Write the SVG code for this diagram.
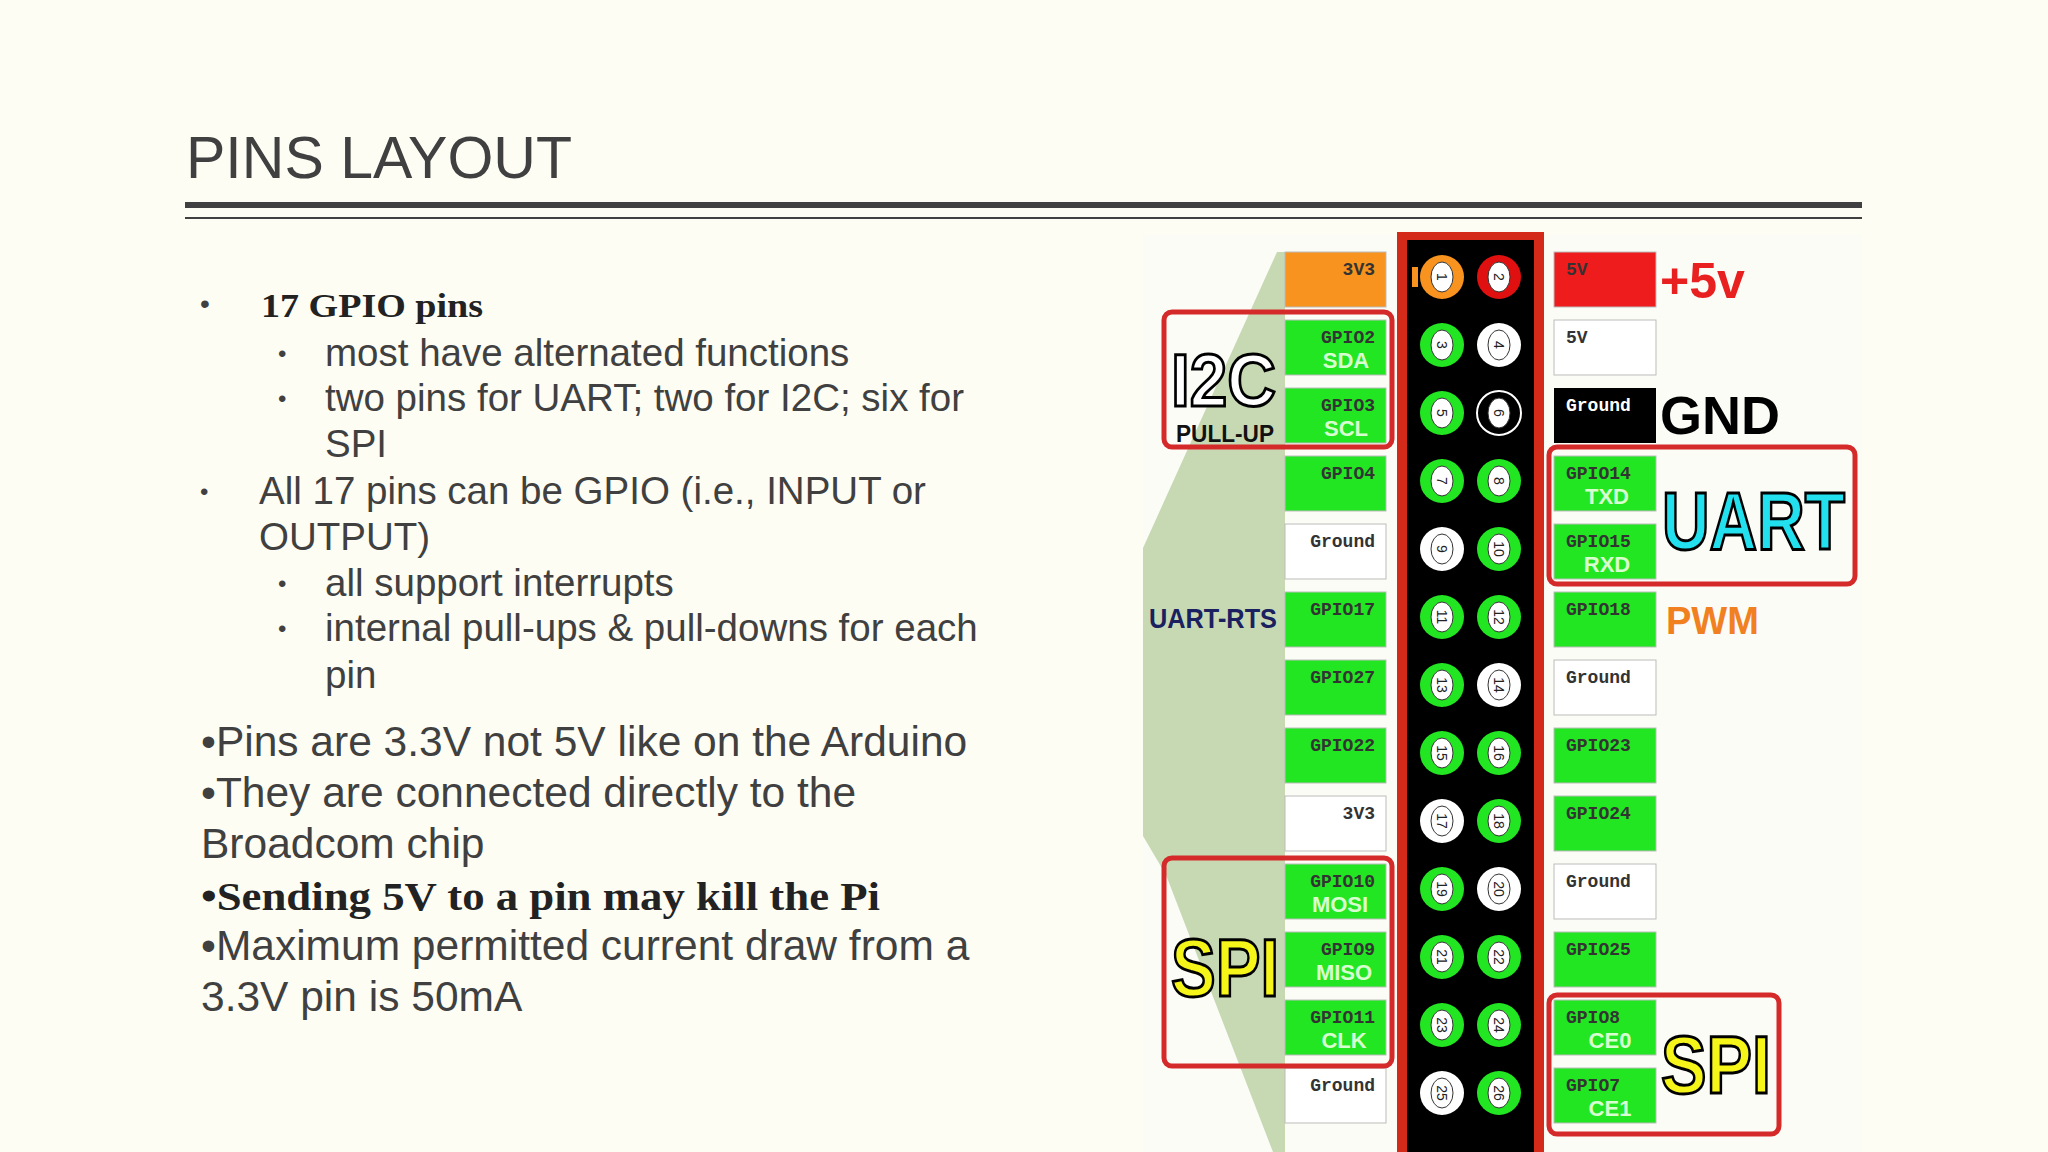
<svg xmlns="http://www.w3.org/2000/svg" width="2048" height="1152" viewBox="0 0 2048 1152">
<style>
.t{font-family:"Liberation Sans",Arial,sans-serif;fill:#404040}
.b{font-family:"Liberation Serif",serif;font-weight:bold;fill:#222}
.m{font-family:"Liberation Mono",monospace;font-weight:bold;font-size:18px;fill:#333}
.s{font-family:"Liberation Sans",Arial,sans-serif;font-weight:bold;font-size:22px;fill:#d8ffd0;text-anchor:middle}
.g{fill:#22e622;stroke:#bbb;stroke-width:1}
.w{fill:#fff;stroke:#bbb;stroke-width:1}
.rb{fill:none;stroke:#d42a2a;stroke-width:5}
.n{font-family:"Liberation Sans",Arial,sans-serif;font-size:14px;fill:#222;text-anchor:middle}
.big{font-family:"Liberation Sans",Arial,sans-serif;font-weight:bold}
</style>
<rect width="2048" height="1152" fill="#fdfdf4"/>
<g id="title">
<text x="186" y="178" class="t" font-size="60" textLength="386" lengthAdjust="spacingAndGlyphs">PINS LAYOUT</text>
<rect x="185" y="202" width="1677" height="6" fill="#404040"/>
<rect x="185" y="217" width="1677" height="2" fill="#404040"/>
</g>
<g id="text" class="t">
<text x="200" y="313" font-size="28">•</text>
<text x="261" y="317" class="b" font-size="33" textLength="222" lengthAdjust="spacingAndGlyphs">17 GPIO pins</text>
<g font-size="38.5">
<text x="278" y="362" font-size="24">•</text><text x="325" y="366">most have alternated functions</text>
<text x="278" y="407" font-size="24">•</text><text x="325" y="411">two pins for UART; two for I2C; six for</text>
<text x="325" y="457">SPI</text>
<text x="200" y="500" font-size="24">•</text><text x="259" y="504">All 17 pins can be GPIO (i.e., INPUT or</text>
<text x="259" y="550">OUTPUT)</text>
<text x="278" y="592" font-size="24">•</text><text x="325" y="596">all support interrupts</text>
<text x="278" y="637" font-size="24">•</text><text x="325" y="641">internal pull-ups &amp; pull-downs for each</text>
<text x="325" y="688">pin</text>
</g>
<g font-size="42.5">
<text x="201" y="756">•Pins are 3.3V not 5V like on the Arduino</text>
<text x="201" y="807">•They are connected directly to the</text>
<text x="201" y="858">Broadcom chip</text>
<text x="201" y="910" class="b" font-size="40" textLength="679" lengthAdjust="spacingAndGlyphs">•Sending 5V to a pin may kill the Pi</text>
<text x="201" y="960">•Maximum permitted current draw from a</text>
<text x="201" y="1011">3.3V pin is 50mA</text>
</g>
</g>
<g id="panel">
<rect x="1143" y="235" width="719" height="917" fill="#fcfcf7"/>
<polygon points="1277,252 1285,252 1285,1152 1273,1152 1166,875 1143,836 1143,548" fill="#c6d9b3"/>
</g>
<g id="header">
<rect x="1397" y="232" width="147" height="925" fill="#d42a1a"/>
<rect x="1407" y="240" width="127" height="912" fill="#000"/>
<rect x="1412" y="267" width="6" height="20" fill="#f7931e"/>
</g>
<g id="pins">
<g transform="translate(1442,277)"><circle r="22" fill="#f7931e"/><ellipse rx="11" ry="15" fill="#fff" stroke="#333"/><text class="n" transform="rotate(90)" y="5">1</text></g>
<g transform="translate(1499,277)"><circle r="22" fill="#e01010"/><ellipse rx="11" ry="15" fill="#fff" stroke="#333"/><text class="n" transform="rotate(90)" y="5">2</text></g>
<g transform="translate(1442,345)"><circle r="22" fill="#22e622"/><ellipse rx="11" ry="15" fill="#fff" stroke="#333"/><text class="n" transform="rotate(90)" y="5">3</text></g>
<g transform="translate(1499,345)"><circle r="22" fill="#fff"/><ellipse rx="11" ry="15" fill="#fff" stroke="#333"/><text class="n" transform="rotate(90)" y="5">4</text></g>
<g transform="translate(1442,413)"><circle r="22" fill="#22e622"/><ellipse rx="11" ry="15" fill="#fff" stroke="#333"/><text class="n" transform="rotate(90)" y="5">5</text></g>
<g transform="translate(1499,413)"><circle r="22" fill="#000" stroke="#fff" stroke-width="2"/><ellipse rx="11" ry="15" fill="#fff" stroke="#333"/><text class="n" transform="rotate(90)" y="5">6</text></g>
<g transform="translate(1442,481)"><circle r="22" fill="#22e622"/><ellipse rx="11" ry="15" fill="#fff" stroke="#333"/><text class="n" transform="rotate(90)" y="5">7</text></g>
<g transform="translate(1499,481)"><circle r="22" fill="#22e622"/><ellipse rx="11" ry="15" fill="#fff" stroke="#333"/><text class="n" transform="rotate(90)" y="5">8</text></g>
<g transform="translate(1442,549)"><circle r="22" fill="#fff"/><ellipse rx="11" ry="15" fill="#fff" stroke="#333"/><text class="n" transform="rotate(90)" y="5">9</text></g>
<g transform="translate(1499,549)"><circle r="22" fill="#22e622"/><ellipse rx="11" ry="15" fill="#fff" stroke="#333"/><text class="n" transform="rotate(90)" y="5">10</text></g>
<g transform="translate(1442,617)"><circle r="22" fill="#22e622"/><ellipse rx="11" ry="15" fill="#fff" stroke="#333"/><text class="n" transform="rotate(90)" y="5">11</text></g>
<g transform="translate(1499,617)"><circle r="22" fill="#22e622"/><ellipse rx="11" ry="15" fill="#fff" stroke="#333"/><text class="n" transform="rotate(90)" y="5">12</text></g>
<g transform="translate(1442,685)"><circle r="22" fill="#22e622"/><ellipse rx="11" ry="15" fill="#fff" stroke="#333"/><text class="n" transform="rotate(90)" y="5">13</text></g>
<g transform="translate(1499,685)"><circle r="22" fill="#fff"/><ellipse rx="11" ry="15" fill="#fff" stroke="#333"/><text class="n" transform="rotate(90)" y="5">14</text></g>
<g transform="translate(1442,753)"><circle r="22" fill="#22e622"/><ellipse rx="11" ry="15" fill="#fff" stroke="#333"/><text class="n" transform="rotate(90)" y="5">15</text></g>
<g transform="translate(1499,753)"><circle r="22" fill="#22e622"/><ellipse rx="11" ry="15" fill="#fff" stroke="#333"/><text class="n" transform="rotate(90)" y="5">16</text></g>
<g transform="translate(1442,821)"><circle r="22" fill="#fff"/><ellipse rx="11" ry="15" fill="#fff" stroke="#333"/><text class="n" transform="rotate(90)" y="5">17</text></g>
<g transform="translate(1499,821)"><circle r="22" fill="#22e622"/><ellipse rx="11" ry="15" fill="#fff" stroke="#333"/><text class="n" transform="rotate(90)" y="5">18</text></g>
<g transform="translate(1442,889)"><circle r="22" fill="#22e622"/><ellipse rx="11" ry="15" fill="#fff" stroke="#333"/><text class="n" transform="rotate(90)" y="5">19</text></g>
<g transform="translate(1499,889)"><circle r="22" fill="#fff"/><ellipse rx="11" ry="15" fill="#fff" stroke="#333"/><text class="n" transform="rotate(90)" y="5">20</text></g>
<g transform="translate(1442,957)"><circle r="22" fill="#22e622"/><ellipse rx="11" ry="15" fill="#fff" stroke="#333"/><text class="n" transform="rotate(90)" y="5">21</text></g>
<g transform="translate(1499,957)"><circle r="22" fill="#22e622"/><ellipse rx="11" ry="15" fill="#fff" stroke="#333"/><text class="n" transform="rotate(90)" y="5">22</text></g>
<g transform="translate(1442,1025)"><circle r="22" fill="#22e622"/><ellipse rx="11" ry="15" fill="#fff" stroke="#333"/><text class="n" transform="rotate(90)" y="5">23</text></g>
<g transform="translate(1499,1025)"><circle r="22" fill="#22e622"/><ellipse rx="11" ry="15" fill="#fff" stroke="#333"/><text class="n" transform="rotate(90)" y="5">24</text></g>
<g transform="translate(1442,1093)"><circle r="22" fill="#fff"/><ellipse rx="11" ry="15" fill="#fff" stroke="#333"/><text class="n" transform="rotate(90)" y="5">25</text></g>
<g transform="translate(1499,1093)"><circle r="22" fill="#22e622"/><ellipse rx="11" ry="15" fill="#fff" stroke="#333"/><text class="n" transform="rotate(90)" y="5">26</text></g>
</g>
<g id="left-boxes">
<rect x="1285" y="252" width="101" height="55" fill="#f7931e" stroke="#bbb"/><text class="m" x="1375" y="275" text-anchor="end">3V3</text>
<rect x="1285" y="320" width="101" height="55" class="g"/><text class="m" x="1375" y="343" text-anchor="end">GPIO2</text><text class="s" x="1346" y="368">SDA</text>
<rect x="1285" y="388" width="101" height="55" class="g"/><text class="m" x="1375" y="411" text-anchor="end">GPIO3</text><text class="s" x="1346" y="436">SCL</text>
<rect x="1285" y="456" width="101" height="55" class="g"/><text class="m" x="1375" y="479" text-anchor="end">GPIO4</text>
<rect x="1285" y="524" width="101" height="55" class="w"/><text class="m" x="1375" y="547" text-anchor="end">Ground</text>
<rect x="1285" y="592" width="101" height="55" class="g"/><text class="m" x="1375" y="615" text-anchor="end">GPIO17</text>
<rect x="1285" y="660" width="101" height="55" class="g"/><text class="m" x="1375" y="683" text-anchor="end">GPIO27</text>
<rect x="1285" y="728" width="101" height="55" class="g"/><text class="m" x="1375" y="751" text-anchor="end">GPIO22</text>
<rect x="1285" y="796" width="101" height="55" class="w"/><text class="m" x="1375" y="819" text-anchor="end">3V3</text>
<rect x="1285" y="864" width="101" height="55" class="g"/><text class="m" x="1375" y="887" text-anchor="end">GPIO10</text><text class="s" x="1340" y="912">MOSI</text>
<rect x="1285" y="932" width="101" height="55" class="g"/><text class="m" x="1375" y="955" text-anchor="end">GPIO9</text><text class="s" x="1344" y="980">MISO</text>
<rect x="1285" y="1000" width="101" height="55" class="g"/><text class="m" x="1375" y="1023" text-anchor="end">GPIO11</text><text class="s" x="1344" y="1048">CLK</text>
<rect x="1285" y="1068" width="101" height="55" class="w"/><text class="m" x="1375" y="1091" text-anchor="end">Ground</text>
</g>
<g id="right-boxes">
<rect x="1554" y="252" width="102" height="55" fill="#ee1c1c" stroke="#bbb"/><text class="m" x="1566" y="275" fill="#a00">5V</text>
<rect x="1554" y="320" width="102" height="55" class="w"/><text class="m" x="1566" y="343">5V</text>
<rect x="1554" y="388" width="102" height="55" fill="#000"/><text class="m" x="1566" y="411" style="fill:#fff">Ground</text>
<rect x="1554" y="456" width="102" height="55" class="g"/><text class="m" x="1566" y="479">GPIO14</text><text class="s" x="1607" y="504">TXD</text>
<rect x="1554" y="524" width="102" height="55" class="g"/><text class="m" x="1566" y="547">GPIO15</text><text class="s" x="1607" y="572">RXD</text>
<rect x="1554" y="592" width="102" height="55" class="g"/><text class="m" x="1566" y="615">GPIO18</text>
<rect x="1554" y="660" width="102" height="55" class="w"/><text class="m" x="1566" y="683">Ground</text>
<rect x="1554" y="728" width="102" height="55" class="g"/><text class="m" x="1566" y="751">GPIO23</text>
<rect x="1554" y="796" width="102" height="55" class="g"/><text class="m" x="1566" y="819">GPIO24</text>
<rect x="1554" y="864" width="102" height="55" class="w"/><text class="m" x="1566" y="887">Ground</text>
<rect x="1554" y="932" width="102" height="55" class="g"/><text class="m" x="1566" y="955">GPIO25</text>
<rect x="1554" y="1000" width="102" height="55" class="g"/><text class="m" x="1566" y="1023">GPIO8</text><text class="s" x="1610" y="1048">CE0</text>
<rect x="1554" y="1068" width="102" height="55" class="g"/><text class="m" x="1566" y="1091">GPIO7</text><text class="s" x="1610" y="1116">CE1</text>
</g>
<g id="groups">
<rect x="1164" y="312" width="228" height="135" rx="8" class="rb"/>
<text x="1171" y="406" class="big" font-size="74" fill="#fff" stroke="#000" stroke-width="3" textLength="105" lengthAdjust="spacingAndGlyphs">I2C</text>
<text x="1176" y="442" class="big" font-size="24" fill="#111" textLength="98" lengthAdjust="spacingAndGlyphs">PULL-UP</text>
<rect x="1164" y="858" width="228" height="208" rx="8" class="rb"/>
<text x="1171" y="996" class="big" font-size="82" fill="#f5f51a" stroke="#000" stroke-width="3" textLength="108" lengthAdjust="spacingAndGlyphs">SPI</text>
<rect x="1549" y="447" width="306" height="137" rx="8" class="rb"/>
<text x="1662" y="549" class="big" font-size="82" fill="#22e0ee" stroke="#000" stroke-width="3" textLength="183" lengthAdjust="spacingAndGlyphs">UART</text>
<rect x="1549" y="995" width="230" height="139" rx="8" class="rb"/>
<text x="1661" y="1093" class="big" font-size="82" fill="#f5f51a" stroke="#000" stroke-width="3" textLength="110" lengthAdjust="spacingAndGlyphs">SPI</text>
<text x="1660" y="298" class="big" font-size="50" fill="#e82020">+5v</text>
<text x="1660" y="434" class="big" font-size="54" fill="#000">GND</text>
<text x="1666" y="634" class="big" font-size="38" fill="#f08020">PWM</text>
<text x="1149" y="628" class="big" font-size="28" fill="#1a2060" textLength="128" lengthAdjust="spacingAndGlyphs">UART-RTS</text>
</g>
</svg>
